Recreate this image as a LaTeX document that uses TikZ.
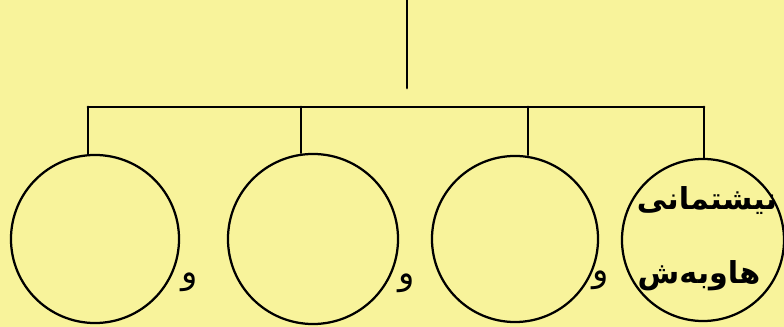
\documentclass[tikz,border=0pt]{standalone}
\usepackage{fontspec}
\newfontfamily\arabicfont[Script=Arabic]{DejaVu Sans}
\TeXXeTstate=1
\definecolor{bgyellow}{HTML}{F8F39B}
\tikzset{
  ring/.style={draw, line width=1.6pt, circle, minimum size=#1, inner sep=0pt},
  link/.style={line width=2pt, line cap=round},
  waw/.style={font=\arabicfont\fontsize{24}{28}\selectfont},
  label/.style={font=\arabicfont\bfseries\fontsize{21.5}{26}\selectfont, inner sep=0pt}
}
\begin{document}
\begin{tikzpicture}[x=0.025cm, y=-0.025cm]
        % Tło
        \fill[bgyellow] (0,0) rectangle (784,327);
        \useasboundingbox (0,0) rectangle (784,327);

        % Koła
        \node[ring=4.2cm] (c1) at (95,239) {};
        \node[ring=4.25cm] (c2) at (313,239) {};
        \node[ring=4.15cm] (c3) at (515,239) {};
        \node[ring=4.05cm] (c4) at (703,240) {};

        % Gałęzie
        \coordinate (top) at (407,0);
        \coordinate (mid) at (407,88);
        \coordinate (h1) at (88,107);
        \coordinate (h2) at (301,107);
        \coordinate (h3) at (528,107);
        \coordinate (h4) at (704,107);
        \draw[link] (top) -- (mid);
        \draw[link] (h1) -- (h4);
        \draw[link] (h1) -- (h1 |- c1.north);
        \draw[link] (h2) -- (h2 |- c2.north);
        \draw[link] (h3) -- (h3 |- c3.north);
        \draw[link] (h4) -- (h4 |- c4.north);

        % Spójniki
        \node[waw] (w1) at (190,282) {\beginR و\endR};
        \node[waw] (w2) at (407,283) {\beginR و\endR};
        \node[waw] (w3) at (601,280) {\beginR و\endR};

        % Napis w ostatnim kole
        \node[label] (t1) at (707,201) {\beginR نیشتمانی\endR};
        \node[label] (t2) at (699,276) {\beginR هاوبەش\endR};
\end{tikzpicture}
\end{document}
